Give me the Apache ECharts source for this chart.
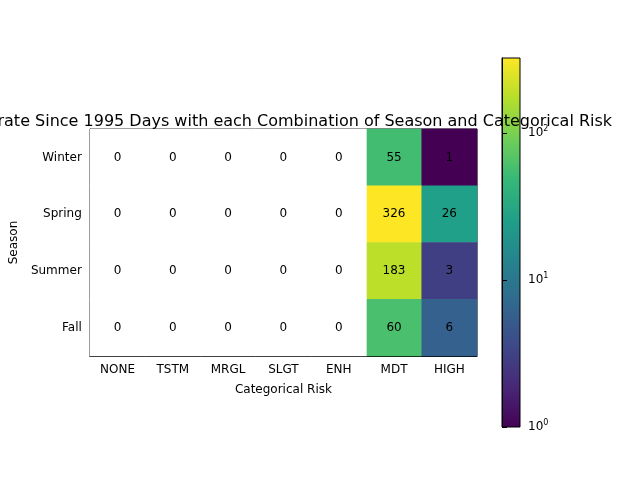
<!DOCTYPE html>
<html><head><meta charset="utf-8">
<script src="https://cdn.jsdelivr.net/npm/echarts@6/dist/echarts.min.js"></script>
<style>html,body{margin:0;background:#fff}#c{width:640px;height:480px}</style>
</head><body><div id="c"></div>
<script>
const risks = ['NONE', 'TSTM', 'MRGL', 'SLGT', 'ENH', 'MDT', 'HIGH']
const seasons = ['Winter', 'Spring', 'Summer', 'Fall']
const counts = [
    [0, 0, 0, 0, 0, 55, 1],
    [0, 0, 0, 0, 0, 326, 26],
    [0, 0, 0, 0, 0, 183, 3],
    [0, 0, 0, 0, 0, 60, 6]
]
const viridis = ['#440154', '#482878', '#3e4989', '#31688e', '#26828e', '#1f9e89', '#35b779', '#6ece58', '#b5de2b', '#fde725']
const vmax = Math.max(...counts.flat())
const logMax = Math.log10(vmax)

const filled = [], zeros = []
counts.forEach((row, y) => row.forEach((v, x) => {
    if (v > 0) filled.push([x, y, v, Math.log10(v)])
    else zeros.push([x, y, v])
}))

const chart = echarts.init(document.getElementById('c'))
const font = 'DejaVu Sans'
const lbl = { show: true, color: '#000', fontSize: 12, formatter: p => p.value[2] }
chart.setOption({
    textStyle: { fontFamily: font },
    animation: false,
    title: {
        text: 'Moderate Since 1995 Days with each Combination of Season and Categorical Risk',
        left: 278, top: 109, textAlign: 'center',
        textStyle: { fontSize: 16, fontWeight: 'normal', color: '#000', fontFamily: font }
    },
    grid: [
        { left: 80, right: 163, top: 129, bottom: 124, show: true, borderColor: '#000', borderWidth: 1 },
        { left: 502, width: 18, top: 58, bottom: 53, show: true, borderColor: '#000', borderWidth: 1,
          backgroundColor: new echarts.graphic.LinearGradient(0, 1, 0, 0,
              viridis.map((c, i) => ({ offset: i / (viridis.length - 1), color: c }))) }
    ],
    xAxis: [
        { type: 'category', data: risks, gridIndex: 0, name: 'Categorical Risk', nameLocation: 'middle', nameGap: 28,
          nameTextStyle: { color: '#000', fontSize: 12 },
          axisLine: { lineStyle: { color: '#000' } }, axisTick: { alignWithLabel: true, lineStyle: { color: '#000' } },
          axisLabel: { color: '#000', fontSize: 12 }, splitLine: { show: false } },
        { type: 'value', gridIndex: 1, show: false, min: 0, max: 1 }
    ],
    yAxis: [
        { type: 'category', data: seasons, inverse: true, gridIndex: 0, name: 'Season', nameLocation: 'middle', nameGap: 40,
          nameTextStyle: { color: '#000', fontSize: 12 },
          axisLine: { lineStyle: { color: '#000' } }, axisTick: { alignWithLabel: true, lineStyle: { color: '#000' } },
          axisLabel: { color: '#000', fontSize: 12 }, splitLine: { show: false } },
        { type: 'value', gridIndex: 1, min: 0, max: logMax, interval: 1, position: 'right',
          axisLine: { show: true, lineStyle: { color: '#000' } },
          axisTick: { show: true, lineStyle: { color: '#000' } },
          splitLine: { show: false },
          axisLabel: { color: '#000', fontSize: 12, showMaxLabel: false,
              formatter: v => '10{s|' + Math.round(v) + '}',
              rich: { s: { fontSize: 8, verticalAlign: 'top', padding: [0, 0, 8, 0] } } } }
    ],
    visualMap: {
        show: false, dimension: 3, min: 0, max: logMax, seriesIndex: 0,
        inRange: { color: viridis }
    },
    series: [
        { type: 'heatmap', xAxisIndex: 0, yAxisIndex: 0, data: filled, label: lbl },
        { type: 'heatmap', xAxisIndex: 0, yAxisIndex: 0, data: zeros, label: lbl, itemStyle: { color: '#fff' } }
    ]
})
</script></body></html>
